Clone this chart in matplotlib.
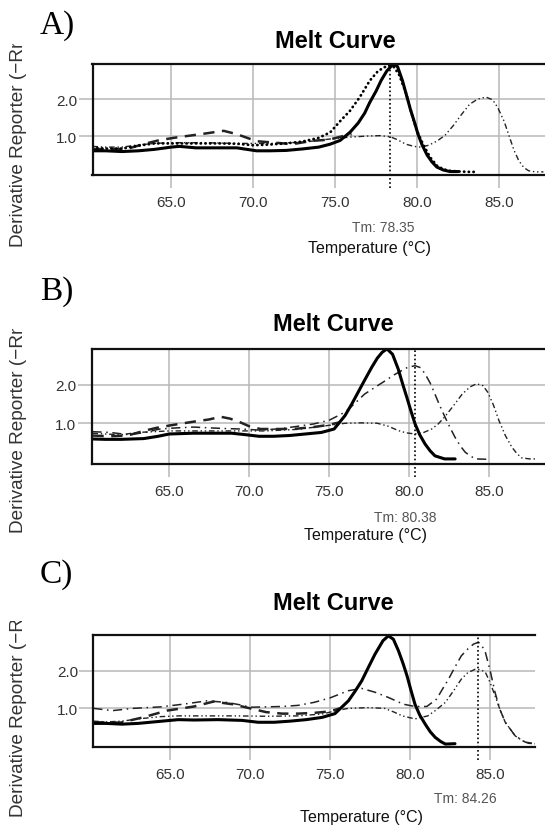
import matplotlib
matplotlib.use("Agg")
import matplotlib.pyplot as plt
from matplotlib.transforms import Bbox, TransformedBbox

plt.rcParams['font.family'] = ['Liberation Sans', 'DejaVu Sans']

W, H = 545, 829

# ---- data ----
tick_temps = [65.0, 70.0, 75.0, 80.0, 85.0]
tick_vals = [1.0, 2.0]
tm_values = [78.35, 80.38, 84.26]
panel_letters = ["A)", "B)", "C)"]

# panel A
a_solid_t = [60.2, 61.0, 62.0, 63.0, 64.0, 65.0, 65.5, 66.5, 68.0, 69.0, 69.6, 70.2, 71.0, 72.0, 73.0, 74.0,
             74.7, 75.3, 75.9, 76.4, 76.8, 77.1, 77.5, 77.8, 78.15, 78.55, 78.8, 79.1, 79.35, 79.6, 79.85,
             80.05, 80.3, 80.6, 80.9, 81.2, 81.6, 82.0, 82.5]
a_solid_y = [0.60, 0.60, 0.58, 0.60, 0.64, 0.70, 0.72, 0.68, 0.68, 0.68, 0.64, 0.60, 0.60, 0.61, 0.65, 0.70,
             0.78, 0.88, 1.10, 1.35, 1.62, 1.90, 2.22, 2.50, 2.76, 2.95, 2.88, 2.50, 2.10, 1.70, 1.35,
             1.05, 0.76, 0.49, 0.30, 0.16, 0.08, 0.04, 0.04]
a_dot_t = [60.2, 61.0, 62.0, 63.0, 64.0, 65.0, 66.0, 67.0, 68.0, 69.0, 70.0, 71.0, 72.0, 73.0, 74.0, 74.7,
           75.3, 75.9, 76.5, 77.1, 77.6, 78.0, 78.3, 78.6, 78.9, 79.3, 79.7, 80.0, 80.4, 80.8, 81.2, 81.6,
           82.0, 82.6, 83.2, 83.7]
a_dot_y = [0.68, 0.66, 0.66, 0.74, 0.80, 0.80, 0.80, 0.80, 0.80, 0.79, 0.75, 0.77, 0.80, 0.85, 0.95, 1.10,
           1.40, 1.68, 2.05, 2.49, 2.75, 2.86, 2.90, 2.86, 2.65, 2.19, 1.55, 1.12, 0.74, 0.42, 0.20, 0.10,
           0.06, 0.04, 0.03, 0.03]
a_dash_t = [60.2, 61.0, 62.3, 63.3, 64.3, 65.3, 66.8, 68.2, 69.0, 70.2, 71.3, 72.4, 73.6, 74.6, 75.5, 76.0]
a_dash_y = [0.65, 0.64, 0.65, 0.78, 0.89, 0.96, 1.05, 1.14, 1.05, 0.86, 0.82, 0.78, 0.87, 0.90, 1.00, 1.05]
a_ddd_t = [60.2, 61.0, 62.0, 63.0, 64.0, 65.0, 67.0, 69.0, 71.0, 73.0, 74.7, 75.9, 77.0, 77.74, 78.35, 78.8,
           79.3, 79.8, 80.2, 80.7, 81.2, 81.7, 82.2, 82.7, 83.2, 83.7, 84.2, 84.6, 84.9, 85.3, 85.6, 85.9,
           86.2, 86.5, 86.8, 87.2, 87.7]
a_ddd_y = [0.72, 0.70, 0.70, 0.76, 0.80, 0.82, 0.82, 0.80, 0.80, 0.83, 0.92, 0.97, 1.00, 1.01, 0.98, 0.90,
           0.78, 0.72, 0.70, 0.75, 0.86, 1.02, 1.28, 1.58, 1.86, 2.00, 2.05, 1.98, 1.78, 1.40, 1.01, 0.62,
           0.33, 0.15, 0.06, 0.03, 0.03]

# panel B
b_solid_t = [60.2, 61.0, 62.0, 63.4, 64.3, 65.0, 66.5, 68.0, 68.9, 69.8, 70.6, 71.5, 72.5, 73.5, 74.5, 75.3,
             75.98, 76.4, 76.8, 77.2, 77.65, 78.0, 78.3, 78.6, 78.95, 79.3, 79.6, 79.84, 80.1, 80.36, 80.65,
             80.98, 81.3, 81.6, 82.2, 82.86]
b_solid_y = [0.59, 0.58, 0.58, 0.60, 0.66, 0.72, 0.74, 0.74, 0.74, 0.70, 0.66, 0.66, 0.68, 0.72, 0.76, 0.85,
             1.20, 1.50, 1.81, 2.12, 2.46, 2.70, 2.85, 2.94, 2.80, 2.42, 2.00, 1.68, 1.32, 0.98, 0.70,
             0.46, 0.28, 0.15, 0.07, 0.07]
b_dashdot_t = [60.2, 61.3, 62.5, 63.5, 64.4, 65.5, 66.5, 67.5, 68.6, 69.5, 70.7, 72.0, 73.0, 74.0, 75.0, 75.98,
               76.6, 77.2, 77.9, 78.5, 79.0, 79.5, 79.9, 80.36, 80.7, 80.98, 81.3, 81.6, 81.9, 82.23, 82.55,
               82.86, 83.2, 83.5, 84.1, 84.9]
b_dashdot_y = [0.78, 0.76, 0.70, 0.76, 0.85, 0.88, 0.90, 0.88, 0.86, 0.85, 0.82, 0.86, 0.92, 0.98, 1.08, 1.29,
               1.52, 1.76, 1.95, 2.11, 2.25, 2.37, 2.46, 2.50, 2.45, 2.29, 2.05, 1.76, 1.46, 1.16, 0.88,
               0.63, 0.40, 0.24, 0.07, 0.06]
b_dash_t = [60.2, 61.2, 62.4, 63.4, 64.2, 65.0, 66.5, 67.5, 68.2, 68.8, 69.4, 70.0, 70.7, 72.0, 73.0, 74.0,
            75.0, 75.6]
b_dash_y = [0.68, 0.66, 0.68, 0.80, 0.88, 0.94, 1.04, 1.10, 1.17, 1.12, 1.03, 0.92, 0.85, 0.85, 0.86, 0.90,
            0.96, 1.02]
b_ddd_t = [60.2, 61.0, 62.0, 63.0, 64.0, 65.0, 67.0, 69.0, 71.0, 73.0, 74.5, 76.0, 77.0, 78.0, 78.7, 79.3,
           79.8, 80.36, 80.9, 81.4, 81.8, 82.2, 82.8, 83.3, 83.8, 84.2, 84.6, 84.9, 85.25, 85.6, 86.0, 86.4,
           86.7, 87.0, 87.5, 88.0]
b_ddd_y = [0.74, 0.72, 0.70, 0.76, 0.78, 0.80, 0.80, 0.80, 0.80, 0.84, 0.92, 1.00, 1.01, 1.00, 0.92, 0.81,
           0.75, 0.72, 0.76, 0.85, 0.98, 1.16, 1.48, 1.76, 1.95, 2.03, 1.98, 1.81, 1.48, 1.07, 0.68, 0.38,
           0.22, 0.10, 0.07, 0.07]

# panel C
c_solid_t = [60.2, 61.0, 62.0, 63.0, 64.0, 65.0, 65.5, 66.5, 68.0, 69.5, 70.5, 71.5, 72.5, 73.5, 74.5, 75.3,
             76.14, 76.55, 76.97, 77.4, 77.8, 78.3, 78.64, 78.95, 79.27, 79.55, 79.8, 80.05, 80.3, 80.6,
             80.94, 81.25, 81.56, 81.9, 82.2, 82.8]
c_solid_y = [0.60, 0.60, 0.58, 0.60, 0.64, 0.68, 0.70, 0.69, 0.70, 0.68, 0.63, 0.63, 0.66, 0.70, 0.76, 0.86,
             1.20, 1.45, 1.73, 2.10, 2.44, 2.80, 2.93, 2.84, 2.53, 2.20, 1.87, 1.48, 1.11, 0.82,
             0.58, 0.38, 0.23, 0.12, 0.05, 0.06]
c_dashdot_t = [60.2, 61.4, 62.7, 64.4, 65.8, 67.3, 68.5, 69.3, 70.0, 71.0, 72.0, 73.0, 74.0, 75.0, 76.14,
               76.97, 77.8, 78.64, 79.58, 80.3, 81.04, 81.66, 82.0, 82.4, 82.8, 83.2, 83.6, 83.96, 84.27,
               84.5, 84.7, 85.0, 85.3, 85.6, 85.94, 86.56, 87.2, 88.0]
c_dashdot_y = [1.00, 0.94, 1.00, 1.04, 1.11, 1.20, 1.16, 1.10, 1.03, 1.04, 1.05, 1.08, 1.16, 1.28, 1.47,
               1.53, 1.43, 1.29, 1.11, 1.05, 1.05, 1.25, 1.50, 1.78, 2.10, 2.40, 2.58, 2.71, 2.76,
               2.65, 2.49, 2.00, 1.43, 0.98, 0.63, 0.27, 0.10, 0.05]
c_dash_t = [60.2, 61.9, 63.3, 64.8, 66.5, 67.7, 68.9, 70.2, 71.0, 72.0, 73.0, 74.0, 75.0, 75.6]
c_dash_y = [0.63, 0.62, 0.76, 0.94, 1.05, 1.18, 1.11, 0.98, 0.90, 0.86, 0.86, 0.88, 0.92, 1.00]
c_ddd_t = [60.2, 61.0, 62.0, 63.0, 64.4, 65.5, 67.0, 69.0, 71.0, 73.0, 74.5, 75.5, 76.14, 77.4, 78.4, 79.0,
           79.5, 80.3, 81.1, 81.6, 82.2, 82.7, 83.2, 83.6, 84.06, 84.4, 84.7, 85.0, 85.3, 85.6, 85.94,
           86.56, 87.0, 87.4, 88.0]
c_ddd_y = [0.66, 0.64, 0.66, 0.72, 0.78, 0.80, 0.80, 0.80, 0.79, 0.80, 0.85, 0.95, 1.00, 1.02, 1.00, 0.90,
           0.80, 0.72, 0.80, 0.95, 1.16, 1.46, 1.78, 1.95, 2.04, 2.03, 1.96, 1.68, 1.34, 0.98, 0.63,
           0.27, 0.14, 0.07, 0.05]

# line styles
solid_kw = dict(color="black", lw=2.2, ls="-", solid_capstyle="round")
dot_kw = dict(color="black", lw=2.0, ls=(0, (0.1, 1.6)), dash_capstyle="round")
dash_kw = dict(color="#222222", lw=1.8, ls=(0, (4.5, 3)))
dashdot_kw = dict(color="#222222", lw=1.1, ls=(0, (6, 3, 1, 3)))
ddd_kw = dict(color="#222222", lw=1.0, ls=(0, (4, 2, 1, 2, 1, 2)))

panels = [
    # left px, right px, top px, bottom px, xlim, ylim, series, right spine
    dict(box=(92.5, 550, 64.5, 176), xlim=(60.2, 88.1), ylim=(-0.054, 2.96), spine=True,
         series=[(a_ddd_t, a_ddd_y, ddd_kw), (a_dash_t, a_dash_y, dash_kw),
                 (a_dot_t, a_dot_y, dot_kw), (a_solid_t, a_solid_y, solid_kw)],
         letter_y=26, title=(335, 42), tm=(383, 228), xlab=(370, 248), ylab=(247, 45)),
    dict(box=(91.7, 550, 349.5, 464.5), xlim=(60.15, 88.79), ylim=(-0.05, 2.95), spine=True,
         series=[(b_ddd_t, b_ddd_y, ddd_kw), (b_dash_t, b_dash_y, dash_kw),
                 (b_dashdot_t, b_dashdot_y, dashdot_kw), (b_solid_t, b_solid_y, solid_kw)],
         letter_y=292, title=(333, 325), tm=(405, 518), xlab=(366, 536), ylab=(533, 330)),
    dict(box=(93.3, 535, 635.7, 747.7), xlim=(60.2, 87.8), ylim=(-0.02, 2.96), spine=False,
         series=[(c_ddd_t, c_ddd_y, ddd_kw), (c_dash_t, c_dash_y, dash_kw),
                 (c_dashdot_t, c_dashdot_y, dashdot_kw), (c_solid_t, c_solid_y, solid_kw)],
         letter_y=575, title=(333, 604), tm=(465, 799), xlab=(362, 818), ylab=(817, 622)),
]

fig = plt.figure(figsize=(W / 100, H / 100), dpi=100)


def fx(px):
    return px / W


def fy(py):
    return 1 - py / H


for i, p in enumerate(panels):
    l, r, t, b = p["box"]
    ax = fig.add_axes([fx(l), fy(b), (r - l) / W, (b - t) / H])
    for tt, yy, kw in p["series"]:
        ax.plot(tt, yy, **kw)
    ax.set_xlim(*p["xlim"])
    ax.set_ylim(*p["ylim"])
    ax.set_xticks(tick_temps)
    ax.set_xticklabels([f"{v:.1f}" for v in tick_temps])
    ax.set_yticks(tick_vals)
    ax.set_yticklabels([f"{v:.1f}" for v in tick_vals])
    ax.grid(True, color="#b8b8b8", lw=1.1)
    ax.set_axisbelow(True)
    ax.tick_params(axis="x", length=9.5, width=1.1, color="#b8b8b8", pad=5,
                   labelsize=11, labelcolor="#333333")
    ax.tick_params(axis="y", length=10, width=1.1, color="#b8b8b8", pad=1,
                   labelsize=11, labelcolor="#333333")
    for s in ax.spines.values():
        s.set_linewidth(1.6)
        s.set_color("#111111")
    if not p["spine"]:
        ax.spines["right"].set_visible(False)

    # Tm marker
    ax.axvline(tm_values[i], ymin=-0.12, ymax=1, color="black", lw=1.2,
               ls=(0, (1, 1.5)), clip_on=False)

    fig.text(fx(40), fy(p["letter_y"]), panel_letters[i], family="Liberation Serif",
             fontsize=24, ha="left", va="center")
    fig.text(fx(p["title"][0]), fy(p["title"][1]), "Melt Curve", fontsize=17,
             fontweight="bold", ha="center", va="center")
    fig.text(fx(p["tm"][0]), fy(p["tm"][1]), f"Tm: {tm_values[i]:.2f}", fontsize=10,
             color="#555555", ha="center", va="center")
    fig.text(fx(p["xlab"][0]), fy(p["xlab"][1]), "Temperature (°C)", fontsize=11.5,
             color="#111111", ha="center", va="center")
    # y label is cut off at the top in the original figure
    yl = fig.text(fx(18.5), fy(p["ylab"][0]), "Derivative Reporter (\u2212Rn)", fontsize=13.7,
                  color="#333333", rotation=90, ha="center", va="bottom")
    clip = TransformedBbox(Bbox([[0, fy(p["ylab"][0]) - 0.02], [fx(40), fy(p["ylab"][1])]]),
                           fig.transFigure)
    yl.set_clip_box(clip)
    yl.set_clip_on(True)

fig.savefig("out.png", dpi=100)
